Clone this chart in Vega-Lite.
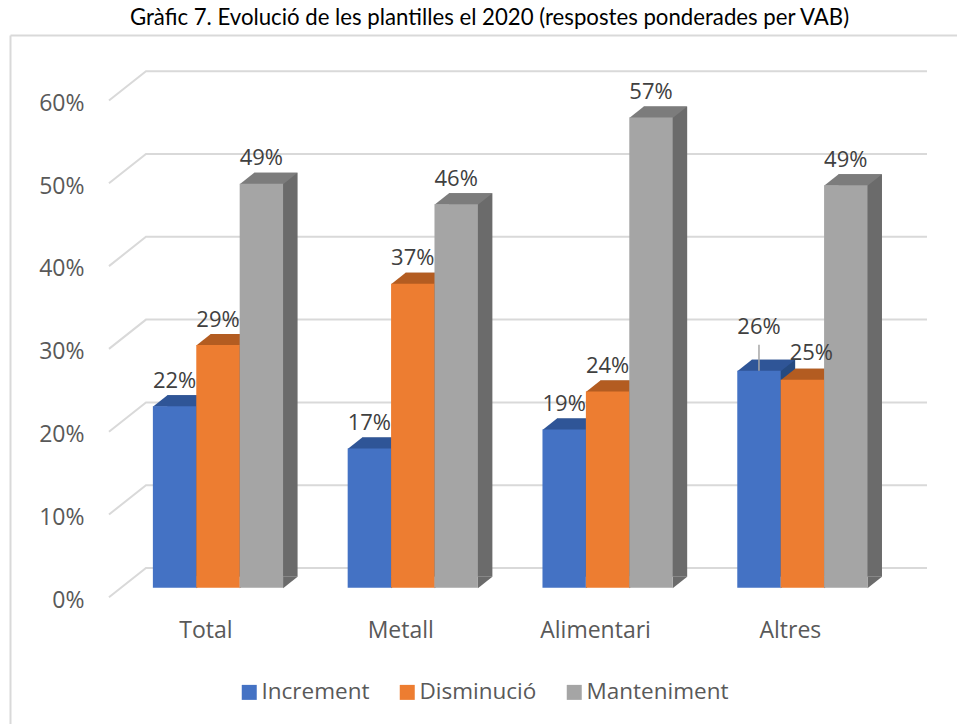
{
"$schema":"https://vega.github.io/schema/vega-lite/v6.json",
"width":947,"height":689,
"autosize":{"type":"none"},
"padding":{"left":10,"top":35,"right":0,"bottom":0},
"background":"white",
"view":{"stroke":null},
"title":{"text":"Gràfic 7. Evolució de les plantilles el 2020 (respostes ponderades per VAB)","font":"Lato","fontSize":22.2,"fontWeight":"normal","color":"#000000","anchor":"middle","dx":6,"offset":6},
"data":{"values":[
{"Cat":"Total","Series":"Increment","value":0.219},
{"Cat":"Total","Series":"Disminució","value":0.293},
{"Cat":"Total","Series":"Manteniment","value":0.488},
{"Cat":"Metall","Series":"Increment","value":0.168},
{"Cat":"Metall","Series":"Disminució","value":0.367},
{"Cat":"Metall","Series":"Manteniment","value":0.463},
{"Cat":"Alimentari","Series":"Increment","value":0.191},
{"Cat":"Alimentari","Series":"Disminució","value":0.237},
{"Cat":"Alimentari","Series":"Manteniment","value":0.568},
{"Cat":"Altres","Series":"Increment","value":0.262},
{"Cat":"Altres","Series":"Disminució","value":0.251},
{"Cat":"Altres","Series":"Manteniment","value":0.486}
]},
"resolve":{"scale":{"x":"independent","xOffset":"independent","fill":"independent"},"axis":{"x":"independent","y":"independent"}},
"layer":[
{"resolve":{"scale":{"fill":"independent"},"axis":{"x":"independent","y":"independent"}},
 "layer":[
 {"data":{"values":[{"g":0},{"g":0.1},{"g":0.2},{"g":0.3},{"g":0.4},{"g":0.5},{"g":0.6}]},
  "mark":{"type":"point","shape":"M-123.5,9.6 L-86.5,-19.7 L694.5,-19.7","size":4,"filled":false,"stroke":"#d9d9d9","strokeWidth":2,"opacity":1,"fill":null},
  "encoding":{
   "x":{"datum":"Total","type":"nominal","scale":{"type":"band","domain":["Total","Metall","Alimentari","Altres"],"paddingInner":0,"paddingOuter":0.4307,"align":0.7454},
    "axis":{"orient":"top","domain":true,"domainColor":"#d9d9d9","domainWidth":2,"labels":false,"ticks":false,"title":null,"grid":false}},
   "y":{"field":"g","type":"quantitative","scale":{"domain":[-0.1646,0.6675],"nice":false,"zero":false},
    "axis":{"orient":"left","domain":true,"domainColor":"#d9d9d9","domainWidth":2,"labels":false,"ticks":false,"title":null,"grid":false}}
  }},
 {"mark":{"type":"bar","yOffset":-11,"y2Offset":-11},
  "encoding":{
   "x":{"field":"Cat","type":"nominal","axis":null},
   "xOffset":{"field":"Series","type":"nominal","scale":{"domain":["Increment","Disminució","Manteniment"],"paddingInner":0,"paddingOuter":0.744}},
   "y":{"field":"value","type":"quantitative","axis":null},
   "y2":{"datum":0},
   "fill":{"field":"Series","type":"nominal","legend":null,"scale":{"domain":["Increment","Disminució","Manteniment"],"range":["#264a80","#8f4a1a","#6b6b6b"]}}
  }},
 {"mark":{"type":"point","shape":"M7.2,0.5 L21.7,-11 L7.2,-11 Z","size":4,"filled":true,"opacity":1},
  "encoding":{
   "x":{"field":"Cat","type":"nominal","axis":null},
   "xOffset":{"field":"Series","type":"nominal"},
   "y":{"datum":0,"type":"quantitative","axis":null},
   "fill":{"field":"Series","type":"nominal","legend":null,"scale":{"domain":["Increment","Disminució","Manteniment"],"range":["#264a80","#8f4a1a","#6b6b6b"]}}
  }}
 ]},
{"resolve":{"scale":{"fill":"independent"},"axis":{"x":"independent","y":"independent"}},
 "layer":[
 {"mark":{"type":"point","shape":"M-21.7,0.5 L21.7,0.5 L36.2,-11 L-7.2,-11 Z","size":4,"filled":true,"opacity":1},
  "encoding":{
   "x":{"field":"Cat","type":"nominal","axis":null,"scale":{"type":"band","domain":["Total","Metall","Alimentari","Altres"],"paddingInner":0,"paddingOuter":0.4307,"align":0.659}},
   "xOffset":{"field":"Series","type":"nominal","scale":{"domain":["Increment","Disminució","Manteniment"],"paddingInner":0,"paddingOuter":0.744}},
   "y":{"field":"value","type":"quantitative","axis":null},
   "fill":{"field":"Series","type":"nominal","legend":null,"scale":{"domain":["Increment","Disminució","Manteniment"],"range":["#2f5597","#b35c21","#7c7c7c"]}}
  }},
 {"mark":{"type":"bar"},
  "encoding":{
   "x":{"field":"Cat","type":"nominal","axis":{"orient":"bottom","offset":-105,"domain":false,"ticks":false,"grid":false,"title":null,"labelAngle":0,"labelFont":"Open Sans","labelFontSize":23,"labelColor":"#595959","labelOffset":-12,"labelPadding":0}},
   "xOffset":{"field":"Series","type":"nominal"},
   "y":{"field":"value","type":"quantitative","axis":{"orient":"left","offset":-74,"values":[0,0.1,0.2,0.3,0.4,0.5,0.6],"format":".0%","domain":false,"ticks":false,"grid":false,"title":null,"labelFont":"Open Sans","labelFontSize":23,"labelColor":"#595959","labelOffset":12.5,"labelPadding":0}},
   "y2":{"datum":0},
   "fill":{"field":"Series","type":"nominal","scale":{"domain":["Increment","Disminució","Manteniment"],"range":["#4472c4","#ed7d31","#a5a5a5"]},
    "legend":{"title":null,"orient":"none","legendX":228,"legendY":646,"direction":"horizontal","columns":3,"symbolType":"square","symbolSize":225,"labelFont":"Open Sans","labelFontSize":22.5,"labelColor":"#595959","labelOffset":1,"columnPadding":26,"symbolStrokeWidth":0}}
  }},
 {"transform":[{"filter":"datum.Cat==='Altres' && datum.Series==='Increment'"}],
  "mark":{"type":"rule","color":"#a6a6a6","strokeWidth":1.5},
  "encoding":{
   "x":{"field":"Cat","type":"nominal","axis":null},
   "xOffset":{"field":"Series","type":"nominal"},
   "y":{"field":"value","type":"quantitative","axis":null},
   "y2":{"datum":0.2934}
  }},
 {"transform":[{"filter":"!(datum.Cat==='Altres' && datum.Series!=='Manteniment')"}],
  "mark":{"type":"text","font":"Open Sans","fontSize":22,"color":"#404040","baseline":"middle","dy":-25.5},
  "encoding":{
   "x":{"field":"Cat","type":"nominal","axis":null},
   "xOffset":{"field":"Series","type":"nominal"},
   "y":{"field":"value","type":"quantitative","axis":null},
   "text":{"field":"value","type":"quantitative","format":".0%"}
  }},
 {"transform":[{"filter":"datum.Cat==='Altres' && datum.Series==='Increment'"}],
  "mark":{"type":"text","font":"Open Sans","fontSize":22,"color":"#404040","baseline":"middle","dy":-44},
  "encoding":{
   "x":{"field":"Cat","type":"nominal","axis":null},
   "xOffset":{"field":"Series","type":"nominal"},
   "y":{"field":"value","type":"quantitative","axis":null},
   "text":{"field":"value","type":"quantitative","format":".0%"}
  }},
 {"transform":[{"filter":"datum.Cat==='Altres' && datum.Series==='Disminució'"}],
  "mark":{"type":"text","font":"Open Sans","fontSize":22,"color":"#404040","baseline":"middle","dy":-27,"dx":9},
  "encoding":{
   "x":{"field":"Cat","type":"nominal","axis":null},
   "xOffset":{"field":"Series","type":"nominal"},
   "y":{"field":"value","type":"quantitative","axis":null},
   "text":{"field":"value","type":"quantitative","format":".0%"}
  }}
 ]}
]
}
